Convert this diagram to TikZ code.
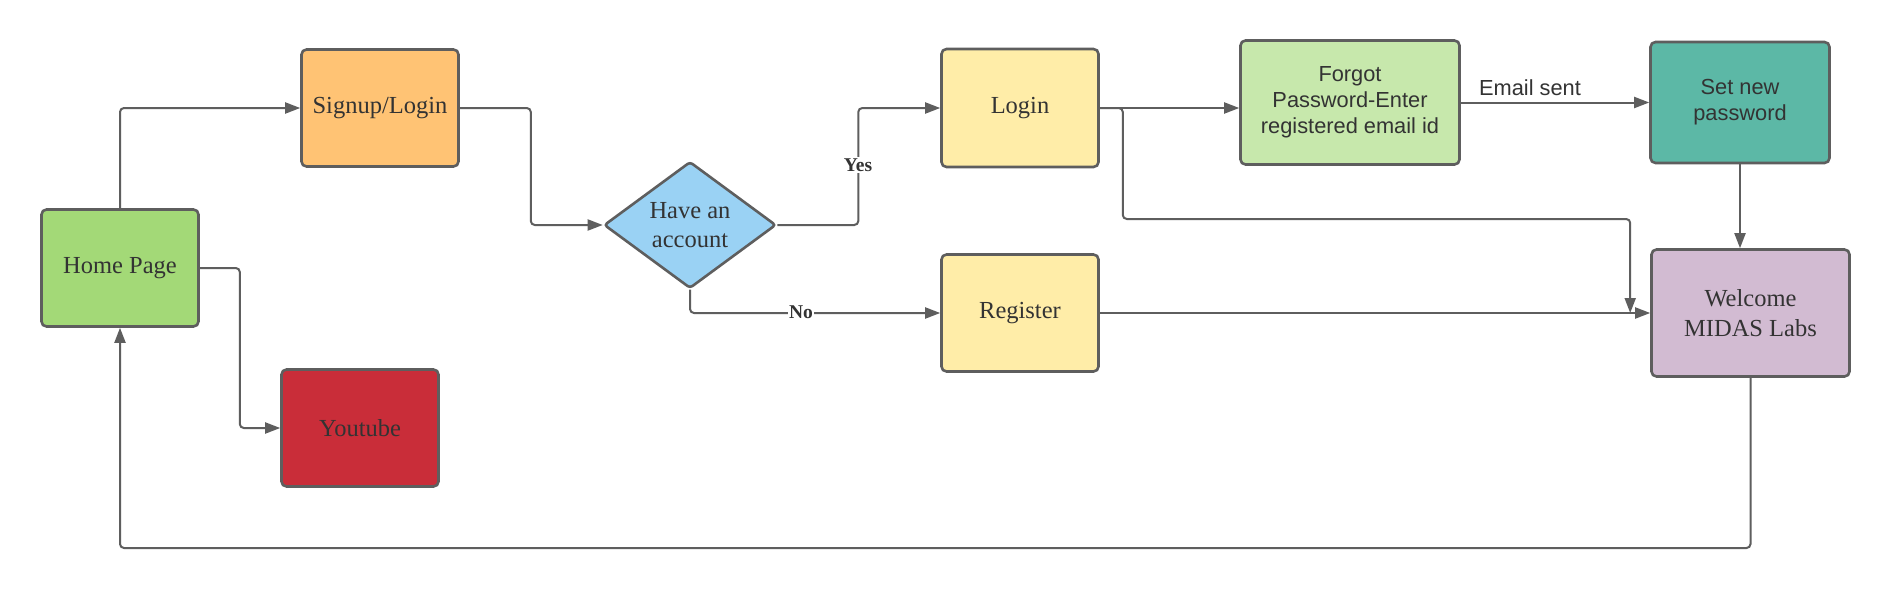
\documentclass[tikz,border=0pt]{standalone}
\usepackage{fontspec}
\setmainfont{Liberation Serif}
\newfontfamily\lsans{Liberation Sans}
\usetikzlibrary{shapes.geometric,arrows.meta,calc}
\definecolor{bordc}{HTML}{5E5E5E}
\definecolor{linec}{HTML}{5E5E5E}
\definecolor{txtc}{HTML}{333333}
\definecolor{cgreen}{HTML}{A3D977}
\definecolor{corange}{HTML}{FFC374}
\definecolor{cred}{HTML}{C92D39}
\definecolor{cblue}{HTML}{9AD2F4}
\definecolor{cyellow}{HTML}{FFEDA8}
\definecolor{clgreen}{HTML}{C7E8AC}
\definecolor{cteal}{HTML}{5CB8A6}
\definecolor{cpurple}{HTML}{D2BBD2}
\begin{document}
\begin{tikzpicture}[x=1pt,y=-1pt,
  box/.style={draw=bordc, line width=2.6pt, rounded corners=5pt, text=txtc,
    align=center, inner sep=0pt, font=\fontsize{24.5}{29.5}\selectfont},
  sbox/.style={box, font=\lsans\fontsize{21.8}{26}\selectfont},
  conn/.style={draw=linec, line width=2pt, rounded corners=4pt,
    -{Triangle[length=15pt,width=11pt]}},
  lbl/.style={fill=white, text=txtc, inner sep=1.5pt,
    font=\bfseries\fontsize{19.5}{21}\selectfont}]
\useasboundingbox (0,0) rectangle (1890,589);
\fill[white] (0,0) rectangle (1890,589);

\node[box, fill=cgreen, minimum width=157pt, minimum height=117pt] (home) at (120,268) {Home Page};
\node[box, fill=corange, minimum width=157pt, minimum height=117pt] (signup) at (380,108) {Signup/Login};
\node[box, fill=cred, minimum width=157pt, minimum height=117pt] (yt) at (360,428) {Youtube};
\node[box, fill=cblue, shape=diamond, rounded corners=3pt, minimum width=172pt, minimum height=120pt] (dia) at (690,225) {Have an\\account};
\node[box, fill=cyellow, minimum width=157pt, minimum height=118pt] (login) at (1020,108) {Login};
\node[box, fill=cyellow, minimum width=157pt, minimum height=117pt] (reg) at (1020,313) {Register};
\node[sbox, fill=clgreen, minimum width=219pt, minimum height=124pt] (forgot) at (1350,102.5) {Forgot\\Password-Enter\\registered email id};
\node[sbox, fill=cteal, minimum width=179pt, minimum height=121pt] (setpw) at (1740,102.5) {Set new\\password};
\node[box, fill=cpurple, minimum width=198pt, minimum height=127pt] (wel) at (1750.5,313) {Welcome\\MIDAS Labs};

\coordinate (wl) at ([xshift=-20pt]wel.west);

\draw[conn] (home.north) |- (signup.west);
\draw[conn] (home.east) -- ++(40,0) |- (yt.west);
\draw[conn] (signup.east) -- ++(71,0) |- (dia.west);
\draw[conn] (dia.east) -- ++(81,0) |- (login.west);
\draw[conn] (dia.south) |- (reg.west);
\draw[conn] (login.east) -- (login.east -| forgot.west);
\draw[conn] (forgot.east) -- (setpw.west);
\draw[conn] (login.east) -- ++(23,0) |- ($(wl)+(0,-94)$) -- (wl);
\draw[conn] (reg.east) -- (wel.west);
\draw[conn] (setpw.south) -- (setpw.south |- wel.north);
\draw[conn] (wel.south) -- (wel.south |- 0,548) -| (home.south);

\node[lbl] (yes) at (858,165) {Yes};
\node[lbl] (no) at (801,312) {No};
\node[anchor=base, text=txtc, inner sep=0pt, font=\lsans\fontsize{21.8}{25}\selectfont] (es) at (1530,95) {Email sent};
\end{tikzpicture}
\end{document}
